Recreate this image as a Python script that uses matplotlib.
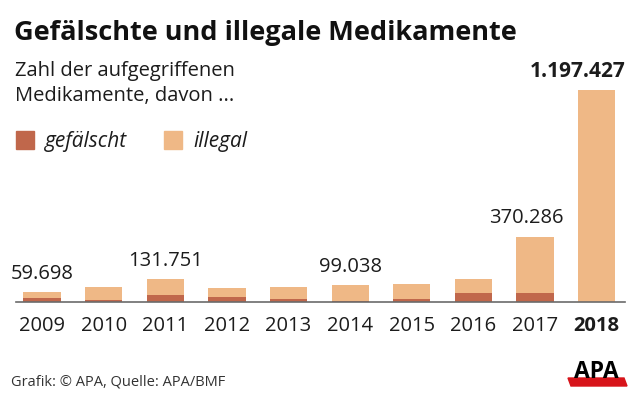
import matplotlib
matplotlib.use('Agg')
import matplotlib.pyplot as plt
from matplotlib.patches import Rectangle, Polygon
import numpy as np

# Daten
jahre = ['2009', '2010', '2011', '2012', '2013', '2014', '2015', '2016', '2017', '2018']
gesamt = [59698, 85000, 131751, 81000, 85000, 99038, 103000, 131000, 370286, 1197427]
gefaelscht = [24000, 15000, 41000, 32000, 21000, 5000, 19000, 52000, 54000, 4000]
beschriftet = ['59.698', '', '131.751', '', '', '99.038', '', '', '370.286', '1.197.427']

DUNKEL = '#c0674b'
HELL = '#efb886'
TEXT = '#1c1c1c'
W, H = 640, 399

plt.rcParams['font.family'] = ['Open Sans', 'DejaVu Sans']


def fx(px):
    return px / W


def fy(py):
    return 1 - py / H


def main() -> None:
    fig = plt.figure(figsize=(W / 100, H / 100), dpi=100)

    # Achsen in Pixelkoordinaten platzieren
    basis = 302.3
    oben = 60
    ax = fig.add_axes([fx(16), fy(basis), (625 - 16) / W, (basis - oben) / H])
    px_pro_einheit = 212.3 / 1197427
    ax.set_ylim(0, (basis - oben) / px_pro_einheit)
    ax.set_xlim(-0.422, 9.459)

    x = np.arange(len(jahre))
    gesamt_arr = np.array(gesamt)
    gef_arr = np.array(gefaelscht)
    illegal = gesamt_arr - gef_arr
    breite = 0.605
    ax.bar(x, gef_arr, breite, color=DUNKEL, zorder=2)
    ax.bar(x, illegal, breite, bottom=gef_arr, color=HELL, zorder=2)

    for i, lab in enumerate(beschriftet):
        if not lab:
            continue
        if i == len(jahre) - 1:
            ax.annotate(lab, (i + breite / 2, gesamt[i]), xytext=(7.5, 9.5),
                        textcoords='offset points', ha='right', va='baseline',
                        fontsize=15, fontweight='bold', color=TEXT)
        elif i == len(jahre) - 2:
            ax.annotate(lab, (i, gesamt[i]), xytext=(-6, 10),
                        textcoords='offset points', ha='center', va='baseline',
                        fontsize=14.5, color=TEXT)
        else:
            ax.annotate(lab, (i, gesamt[i]), xytext=(0, 9),
                        textcoords='offset points', ha='center', va='baseline',
                        fontsize=14.5, color=TEXT)

    for s in ['top', 'right', 'left']:
        ax.spines[s].set_visible(False)
    ax.spines['bottom'].set_color('#6b6b6b')
    ax.spines['bottom'].set_linewidth(1.2)
    ax.spines['bottom'].set_zorder(3)
    ax.set_yticks([])
    ax.set_xticks(x)
    ax.set_xticklabels(jahre, fontsize=14.5, color=TEXT)
    ax.tick_params(axis='x', length=0, pad=10)
    ax.get_xticklabels()[-1].set_fontweight('bold')

    # Titel und Untertitel
    fig.text(fx(14), fy(40), 'Gefälschte und illegale Medikamente',
             fontsize=19.5, fontweight='bold', color='#111111', va='baseline')
    fig.text(fx(15), fy(76), 'Zahl der aufgegriffenen', fontsize=14.5,
             color=TEXT, va='baseline')
    fig.text(fx(15), fy(101.5), 'Medikamente, davon ...', fontsize=14.5,
             color=TEXT, va='baseline')

    # Legende
    fig.patches.append(Rectangle((fx(16), fy(149)), 18 / W, 18 / H,
                                 transform=fig.transFigure, color=DUNKEL))
    fig.text(fx(45), fy(147), 'gefälscht', fontsize=15, style='italic',
             color=TEXT, va='baseline')
    fig.patches.append(Rectangle((fx(164), fy(149)), 18 / W, 18 / H,
                                 transform=fig.transFigure, color=HELL))
    fig.text(fx(193), fy(147), 'illegal', fontsize=15, style='italic',
             color=TEXT, va='baseline')

    # Fußzeile
    fig.text(fx(11), fy(386), 'Grafik: © APA, Quelle: APA/BMF', fontsize=10.5,
             color='#333333', va='baseline')
    fig.text(fx(596), fy(378), 'APA', fontsize=16.5, fontweight='bold',
             color='black', ha='center', va='baseline')
    rot = Polygon([(fx(568), fy(378)), (fx(624), fy(378)), (fx(627), fy(386)),
                   (fx(571), fy(386))], closed=True, transform=fig.transFigure,
                  color='#d7141a')
    fig.patches.append(rot)

    fig.savefig('out.png', dpi=100, facecolor='white')


if __name__ == '__main__':
    main()
